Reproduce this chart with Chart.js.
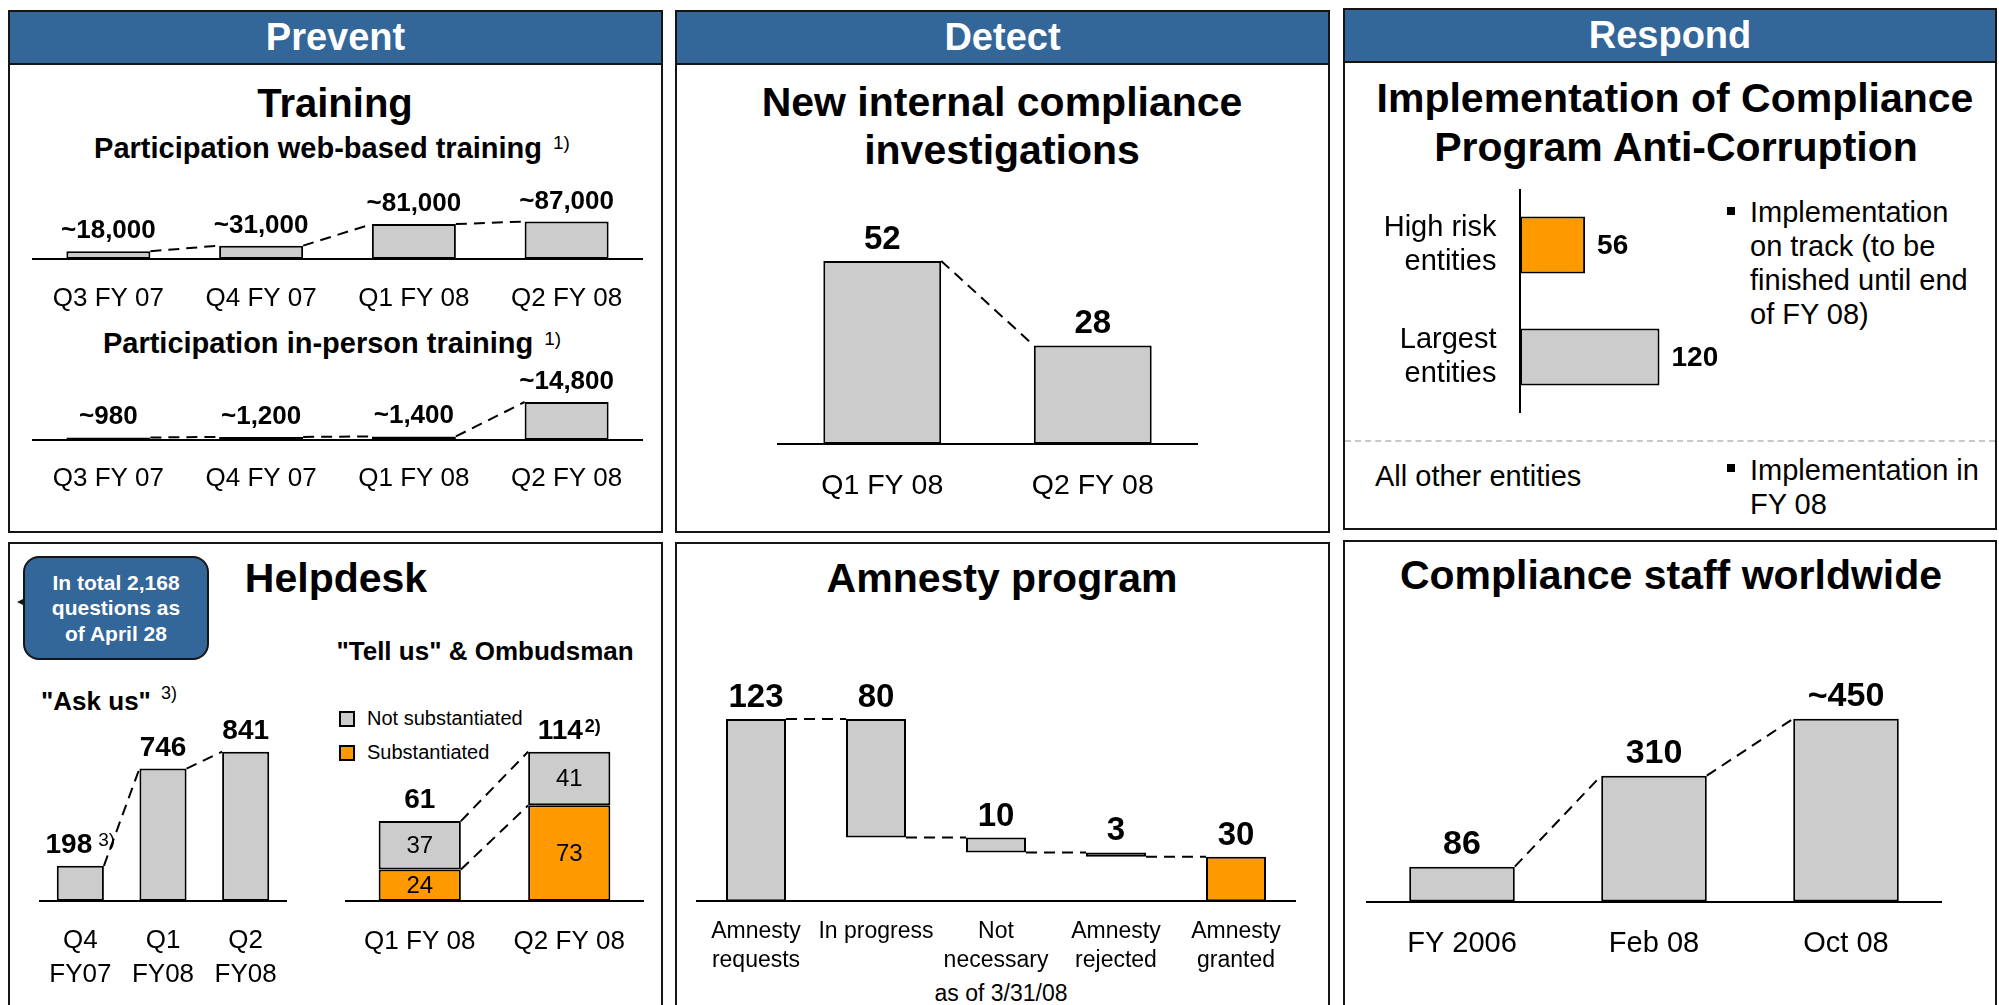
<!DOCTYPE html>
<html>
<head>
<meta charset="utf-8">
<script src="https://cdn.jsdelivr.net/npm/chart.js@4.4.0/dist/chart.umd.min.js"></script>
<style>
body{margin:0;width:1999px;height:1005px;background:#fff;overflow:hidden;position:relative;font-family:"Liberation Sans",Arial,Helvetica,sans-serif;color:#000}
.panel{position:absolute;border:2px solid #151515;box-sizing:border-box}
.head{position:absolute;background:#336699;border:2px solid #151515;box-sizing:border-box;color:#fff;font-weight:bold;font-size:38px;display:flex;align-items:center;justify-content:center}
.t{position:absolute;white-space:nowrap;line-height:1}
.c{transform:translateX(-50%)}
.b{font-weight:bold}
.sup{position:relative;font-weight:normal}
.bul{position:absolute;width:8px;height:8px;background:#000}
.box{position:absolute;width:16px;height:16px;border:2px solid #000;box-sizing:border-box}
canvas{position:absolute}
</style>
</head>
<body>

<!-- panels -->
<div class="panel" style="left:8px;top:10px;width:655px;height:523px"></div>
<div class="panel" style="left:675px;top:10px;width:655px;height:523px"></div>
<div class="panel" style="left:1343px;top:8px;width:654px;height:522px"></div>
<div class="panel" style="left:8px;top:542px;width:655px;height:480px"></div>
<div class="panel" style="left:675px;top:542px;width:655px;height:480px"></div>
<div class="panel" style="left:1343px;top:540px;width:654px;height:480px"></div>

<div class="head" style="left:8px;top:10px;width:655px;height:55px">Prevent</div>
<div class="head" style="left:675px;top:10px;width:655px;height:55px">Detect</div>
<div class="head" style="left:1343px;top:8px;width:654px;height:55px">Respond</div>

<!-- Prevent -->
<div class="t c b" style="left:335px;top:82.6px;font-size:40px">Training</div>
<div class="t c b" style="left:332px;top:133.5px;font-size:29px">Participation web-based training<span class="sup" style="font-size:19px;margin-left:11px;top:-9px">1)</span></div>
<div class="t c b" style="left:332px;top:328.5px;font-size:29px">Participation in-person training<span class="sup" style="font-size:19px;margin-left:11px;top:-8px">1)</span></div>

<!-- Detect -->
<div class="t c b" style="left:1002px;top:81.8px;font-size:41px">New internal compliance</div>
<div class="t c b" style="left:1002px;top:129.8px;font-size:41px">investigations</div>

<!-- Respond -->
<div class="t c b" style="left:1675px;top:78.3px;font-size:41px">Implementation of Compliance</div>
<div class="t c b" style="left:1676px;top:127.3px;font-size:41px">Program Anti-Corruption</div>
<div class="bul" style="left:1727px;top:207px"></div>
<div class="t" style="left:1750px;top:195px;font-size:29px;line-height:34px">Implementation<br>on track (to be<br>finished until end<br>of FY 08)</div>
<div style="position:absolute;left:1345px;top:440px;width:650px;border-top:2px dashed #c8c8c8"></div>
<div class="t" style="left:1375px;top:459px;font-size:29px;line-height:34px">All other entities</div>
<div class="bul" style="left:1727px;top:464px"></div>
<div class="t" style="left:1750px;top:452.6px;font-size:29px;line-height:34px">Implementation in<br>FY 08</div>

<!-- Helpdesk -->
<div style="position:absolute;left:17px;top:599px;width:0;height:0;border-top:3px solid transparent;border-bottom:3px solid transparent;border-right:6px solid #151515"></div>
<div style="position:absolute;left:23px;top:556px;width:186px;height:104px;box-sizing:border-box;border:2px solid #151515;border-radius:16px;background:#336699;color:#fff;font-weight:bold;font-size:21px;line-height:25.5px;text-align:center;display:flex;align-items:center;justify-content:center">In total 2,168<br>questions as<br>of April 28</div>
<div class="t c b" style="left:336px;top:558px;font-size:41px">Helpdesk</div>
<div class="t c b" style="left:485px;top:638px;font-size:26px">"Tell us" &amp; Ombudsman</div>
<div class="t b" style="left:41px;top:688px;font-size:26px">"Ask us"<span class="sup" style="font-size:18px;margin-left:10px;top:-11px">3)</span></div>
<div class="box" style="left:339px;top:711px;background:#cccccc"></div>
<div class="t" style="left:367px;top:708.2px;font-size:20px">Not substantiated</div>
<div class="box" style="left:339px;top:745px;background:#ff9900"></div>
<div class="t" style="left:367px;top:741.9px;font-size:20px">Substantiated</div>

<!-- Amnesty -->
<div class="t c b" style="left:1002px;top:558px;font-size:41px">Amnesty program</div>
<div class="t c" style="left:1001px;top:981.8px;font-size:23px">as of 3/31/08</div>

<!-- Staff -->
<div class="t c b" style="left:1671px;top:555.3px;font-size:41px">Compliance staff worldwide</div>

<canvas id="cWeb"></canvas>
<canvas id="cPerson"></canvas>
<canvas id="cDetect"></canvas>
<canvas id="cRespond"></canvas>
<canvas id="cAsk"></canvas>
<canvas id="cTell"></canvas>
<canvas id="cAmnesty"></canvas>
<canvas id="cStaff"></canvas>

<script>
// data
var quarterCats = ['Q3 FY 07', 'Q4 FY 07', 'Q1 FY 08', 'Q2 FY 08'];
var webValues = [18000, 31000, 81000, 87000];
var webLabels = ['~18,000', '~31,000', '~81,000', '~87,000'];
var personValues = [980, 1200, 1400, 14800];
var personLabels = ['~980', '~1,200', '~1,400', '~14,800'];

var detectCats = ['Q1 FY 08', 'Q2 FY 08'];
var detectValues = [52, 28];

var respondCats = [['High risk', 'entities'], ['Largest', 'entities']];
var respondValues = [56, 120];

var askCats = [['Q4', 'FY07'], ['Q1', 'FY08'], ['Q2', 'FY08']];
var askValues = [198, 746, 841];
var askNotes = ['3)', '', ''];

var tellCats = ['Q1 FY 08', 'Q2 FY 08'];
var tellSubstantiated = [24, 73];
var tellNotSubstantiated = [37, 41];
var tellTotals = [61, 114];
var tellNotes = ['', '2)'];

var amnestyCats = [['Amnesty', 'requests'], ['In progress'], ['Not', 'necessary'], ['Amnesty', 'rejected'], ['Amnesty', 'granted']];
var amnestyValues = [123, 80, 10, 3, 30];

var staffCats = ['FY 2006', 'Feb 08', 'Oct 08'];
var staffValues = [86, 310, 450];
var staffLabels = ['86', '310', '~450'];

var GRAY = '#cccccc';
var ORANGE = '#ff9900';
var FONT = '"Liberation Sans", Arial, Helvetica, sans-serif';

Chart.defaults.font.family = FONT;
Chart.defaults.color = '#000';

// value labels + dashed connectors
var decor = {
  id: 'decor',
  afterDatasetsDraw: function(chart, args, o) {
    if (!o) return;
    var ctx = chart.ctx;
    var n = chart.data.datasets.length;
    var metas = [];
    for (var i = 0; i < n; i++) metas.push(chart.getDatasetMeta(i).data);
    var top = function(b) { return Math.min(b.y, b.base); };
    var bot = function(b) { return Math.max(b.y, b.base); };
    ctx.save();
    if (o.link) {
      ctx.strokeStyle = '#000';
      ctx.lineWidth = 2;
      ctx.setLineDash([11, 7]);
      var sets = o.link === 'stack' ? metas : [metas[0]];
      sets.forEach(function(bars) {
        for (var i = 0; i < bars.length - 1; i++) {
          var a = bars[i], b = bars[i + 1];
          var ya = (o.link === 'waterfall' && i > 0) ? bot(a) : top(a);
          ctx.beginPath();
          ctx.moveTo(a.x + a.width / 2, ya);
          ctx.lineTo(b.x - b.width / 2, top(b));
          ctx.stroke();
        }
      });
      ctx.setLineDash([]);
    }
    ctx.fillStyle = '#000';
    if (o.seg) {
      ctx.font = o.seg + 'px ' + FONT;
      ctx.textAlign = 'center';
      ctx.textBaseline = 'middle';
      metas.forEach(function(bars, d) {
        bars.forEach(function(b, i) {
          ctx.fillText(String(chart.data.datasets[d].data[i]), b.x, (b.y + b.base) / 2 + 1);
        });
      });
    }
    if (o.text) {
      var bars = metas[n - 1];
      var mf = 'bold ' + o.size + 'px ' + FONT;
      bars.forEach(function(b, i) {
        var main = o.text[i];
        if (o.horizontal) {
          ctx.font = mf;
          ctx.textAlign = 'left';
          ctx.textBaseline = 'middle';
          ctx.fillText(main, b.x + o.gap, b.y + 1);
          return;
        }
        var note = o.notes ? o.notes[i] : '';
        var nf = (o.noteBold ? 'bold ' : '') + o.noteSize + 'px ' + FONT;
        ctx.textAlign = 'left';
        ctx.textBaseline = 'alphabetic';
        ctx.font = mf;
        var wm = ctx.measureText(main).width;
        ctx.font = nf;
        var wn = note ? ctx.measureText(note).width + o.noteGap : 0;
        var x0 = b.x - (wm + wn) / 2;
        var y = top(b) - o.gap;
        ctx.font = mf;
        ctx.fillText(main, x0, y);
        if (note) {
          ctx.font = nf;
          ctx.fillText(note, x0 + wm + o.noteGap, y - 7);
        }
      });
    }
    ctx.restore();
  }
};

function columnChart(id, g, labels, datasets, deco) {
  var lines = 1;
  labels.forEach(function(l) { if (Array.isArray(l)) lines = Math.max(lines, l.length); });
  var lh = g.tickLH || g.tick * 1.2;
  var pad = g.tickY - g.axisY - lh / 2;
  var h = Math.round(g.plotH + 2 * pad + lh * lines);
  var cv = document.getElementById(id);
  cv.width = g.width;
  cv.height = h;
  cv.style.width = g.width + 'px';
  cv.style.height = h + 'px';
  cv.style.left = g.left + 'px';
  cv.style.top = (g.axisY - g.plotH) + 'px';
  return new Chart(cv, {
    type: 'bar',
    data: { labels: labels, datasets: datasets },
    options: {
      responsive: false,
      animation: false,
      devicePixelRatio: 1,
      layout: { padding: 0 },
      plugins: { legend: { display: false }, tooltip: { enabled: false }, decor: deco },
      scales: {
        x: {
          stacked: !!g.stacked,
          grid: { display: false, drawTicks: false },
          border: { display: true, color: '#000', width: 2 },
          ticks: { font: { size: g.tick, lineHeight: lh / g.tick }, padding: pad, color: '#000', autoSkip: false, maxRotation: 0 },
          afterFit: function(s) { s.paddingLeft = 0; s.paddingRight = 0; }
        },
        y: { display: false, stacked: !!g.stacked, min: 0, max: g.plotH / g.ppu }
      }
    },
    plugins: [decor]
  });
}

function barSet(values, pct, colors) {
  return {
    data: values,
    backgroundColor: colors || GRAY,
    borderColor: '#000',
    borderWidth: 2,
    borderSkipped: false,
    barPercentage: pct,
    categoryPercentage: 1
  };
}

// Prevent: web-based training
columnChart('cWeb', { left: 32, width: 611, axisY: 259, plotH: 80, ppu: 37.5 / 87000, tick: 26, tickY: 299 },
  quarterCats, [barSet(webValues, 0.55)],
  { text: webLabels, size: 26, gap: 13, link: 'top' });

// Prevent: in-person training
columnChart('cPerson', { left: 32, width: 611, axisY: 440, plotH: 80, ppu: 38 / 14800, tick: 26, tickY: 479 },
  quarterCats, [barSet(personValues, 0.55)],
  { text: personLabels, size: 26, gap: 13, link: 'top' });

// Detect
columnChart('cDetect', { left: 776.5, width: 421, axisY: 444, plotH: 230, ppu: 3.52, tick: 28.5, tickY: 486 },
  detectCats, [barSet(detectValues, 0.56)],
  { text: detectValues.map(String), size: 33, gap: 12, link: 'top' });

// Helpdesk: Ask us
columnChart('cAsk', { left: 39, width: 248, axisY: 901, plotH: 190, ppu: 0.1775, tick: 26, tickLH: 34, tickY: 941 },
  askCats, [barSet(askValues, 0.57)],
  { text: askValues.map(String), notes: askNotes, noteSize: 19, noteGap: 6, size: 28, gap: 13, link: 'top' });

// Helpdesk: Tell us & Ombudsman (stacked)
var tellSets = [barSet(tellSubstantiated, 0.55, ORANGE), barSet(tellNotSubstantiated, 0.55, GRAY)];
tellSets[0].label = 'Substantiated';
tellSets[1].label = 'Not substantiated';
columnChart('cTell', { left: 345, width: 299, axisY: 901, plotH: 190, ppu: 1.31, tick: 26, tickY: 942, stacked: true },
  tellCats, tellSets,
  { text: tellTotals.map(String), notes: tellNotes, noteSize: 18, noteBold: true, noteGap: 2, size: 28, gap: 13, seg: 24, link: 'stack' });

// Amnesty waterfall: floating bars built from the values
var amnestyRanges = [];
var level = amnestyValues[0];
amnestyValues.forEach(function(v, i) {
  if (i === 0 || i === amnestyValues.length - 1) {
    amnestyRanges.push([0, v]);
  } else {
    amnestyRanges.push([level - v, level]);
    level -= v;
  }
});
var amnestyColors = amnestyValues.map(function(v, i) { return i === amnestyValues.length - 1 ? ORANGE : GRAY; });
columnChart('cAmnesty', { left: 696, width: 600, axisY: 901, plotH: 230, ppu: 1.48, tick: 23, tickLH: 28.3, tickY: 931.7 },
  amnestyCats, [barSet(amnestyRanges, 0.5, amnestyColors)],
  { text: amnestyValues.map(String), size: 33, gap: 12, link: 'waterfall' });

// Compliance staff
columnChart('cStaff', { left: 1365.5, width: 576.5, axisY: 902.3, plotH: 240, ppu: 0.407, tick: 29, tickY: 945 },
  staffCats, [barSet(staffValues, 0.55)],
  { text: staffLabels, size: 34, gap: 13, link: 'top' });

// Respond: horizontal bars
(function() {
  var axisW = 175, plotW = 250;
  var cv = document.getElementById('cRespond');
  cv.width = axisW + plotW;
  cv.height = 224;
  cv.style.width = (axisW + plotW) + 'px';
  cv.style.height = '224px';
  cv.style.left = '1345px';
  cv.style.top = '189px';
  new Chart(cv, {
    type: 'bar',
    data: { labels: respondCats, datasets: [barSet(respondValues, 0.51, [ORANGE, GRAY])] },
    options: {
      indexAxis: 'y',
      responsive: false,
      animation: false,
      devicePixelRatio: 1,
      layout: { padding: 0 },
      plugins: { legend: { display: false }, tooltip: { enabled: false },
        decor: { text: respondValues.map(String), size: 28, gap: 12, horizontal: true } },
      scales: {
        x: { display: false, min: 0, max: plotW / 1.1625 },
        y: {
          grid: { display: false, drawTicks: false },
          border: { display: true, color: '#000', width: 2 },
          ticks: { font: { size: 29 }, padding: 23.5, color: '#000' },
          afterFit: function(s) { s.width = axisW; s.paddingTop = 0; s.paddingBottom = 0; }
        }
      }
    },
    plugins: [decor]
  });
})();
</script>
</body>
</html>
